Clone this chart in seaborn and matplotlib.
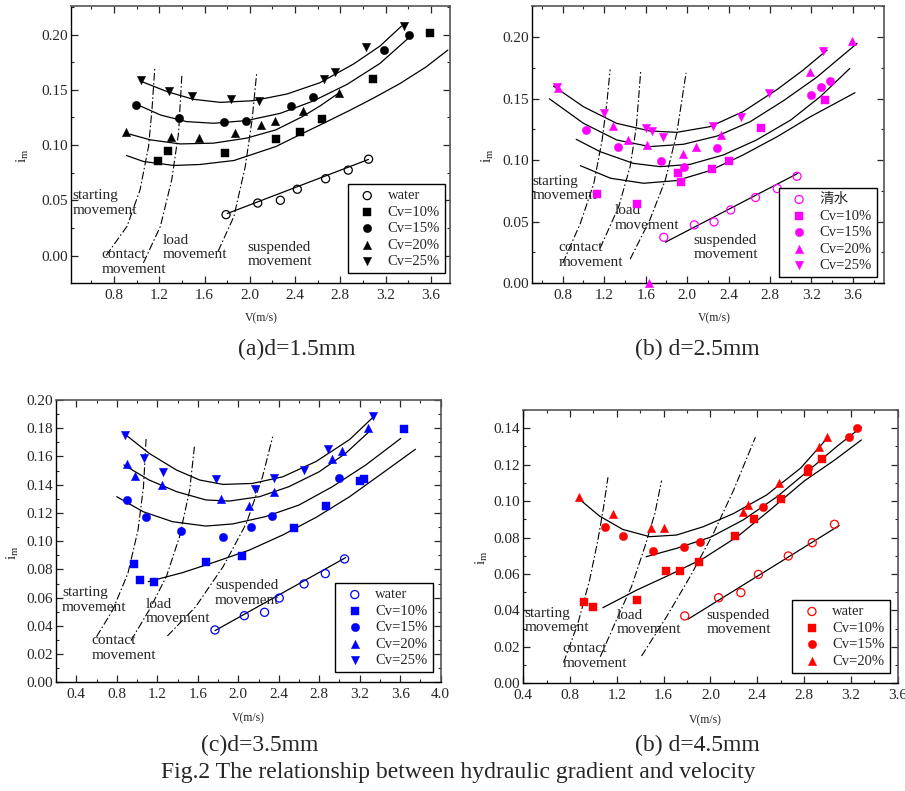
import matplotlib
matplotlib.use("Agg")
import matplotlib.pyplot as plt
import seaborn as sns
from matplotlib.ticker import MultipleLocator, FormatStrFormatter

# ---------------- (a) d=1.5mm ----------------
a_water_v = [1.79, 2.07, 2.27, 2.42, 2.67, 2.87, 3.05]
a_water_i = [0.037, 0.0475, 0.050, 0.060, 0.0695, 0.0773, 0.0872]
a_cv10_v = [1.19, 1.28, 1.78, 2.23, 2.44, 2.64, 3.09, 3.59]
a_cv10_i = [0.0857, 0.0947, 0.0926, 0.1059, 0.1122, 0.1233, 0.160, 0.2018]
a_cv15_v = [0.99, 1.37, 1.77, 1.97, 2.36, 2.56, 3.19, 3.41]
a_cv15_i = [0.1365, 0.1248, 0.1209, 0.1215, 0.135, 0.1438, 0.1859, 0.200]
a_cv20_v = [0.91, 1.30, 1.55, 1.87, 2.10, 2.22, 2.47, 2.79]
a_cv20_i = [0.1116, 0.1077, 0.1068, 0.1113, 0.1182, 0.1221, 0.1311, 0.1468]
a_cv25_v = [1.04, 1.29, 1.49, 1.83, 2.08, 2.66, 2.75, 3.03, 3.36]
a_cv25_i = [0.1588, 0.1486, 0.1441, 0.1414, 0.1399, 0.1594, 0.166, 0.1889, 0.2081]
# fitted curves
a_fit_water_v = [1.80, 3.05]
a_fit_water_i = [0.038, 0.087]
a_fit10_v = [0.91, 1.06, 1.33, 1.56, 1.86, 2.23, 2.44, 2.64, 2.89, 3.09, 3.33, 3.56, 3.75]
a_fit10_i = [0.0905, 0.0851, 0.0815, 0.0824, 0.086, 0.0986, 0.1092, 0.1191, 0.1317, 0.1423, 0.1558, 0.1708, 0.1859]
a_fit15_v = [1.0, 1.21, 1.44, 1.68, 1.97, 2.27, 2.56, 2.86, 3.15, 3.41]
a_fit15_i = [0.1368, 0.1272, 0.1212, 0.1197, 0.1221, 0.1287, 0.1398, 0.1549, 0.1738, 0.1975]
a_fit20_v = [0.94, 1.12, 1.385, 1.68, 1.97, 2.23, 2.465, 2.62, 2.80]
a_fit20_i = [0.1098, 0.1047, 0.101, 0.1017, 0.1062, 0.1137, 0.1257, 0.1353, 0.148]
a_fit25_v = [1.03, 1.27, 1.50, 1.74, 2.03, 2.33, 2.62, 2.92, 3.15, 3.34]
a_fit25_i = [0.158, 0.1483, 0.1414, 0.1386, 0.1401, 0.1462, 0.1564, 0.1735, 0.1895, 0.2075]
# regime boundaries
a_b1_v = [0.73, 0.915, 1.03, 1.105, 1.135, 1.16]
a_b1_i = [0.0, 0.0265, 0.0595, 0.0986, 0.1317, 0.1693]
a_b2_v = [1.06, 1.21, 1.31, 1.37, 1.40]
a_b2_i = [-0.0066, 0.0265, 0.0686, 0.1107, 0.1642]
a_b3_v = [1.72, 1.86, 1.96, 2.02, 2.06]
a_b3_i = [0.0039, 0.0355, 0.0806, 0.1227, 0.1642]

# ---------------- (b) d=2.5mm ----------------
b_water_v = [1.775, 2.07, 2.26, 2.42, 2.66, 2.87, 3.06]
b_water_i = [0.0373, 0.0474, 0.0498, 0.0595, 0.0696, 0.0769, 0.0869]
b_cv10_v = [1.13, 1.52, 1.91, 1.94, 2.24, 2.40, 2.71, 3.33]
b_cv10_i = [0.0725, 0.0647, 0.0893, 0.082, 0.0931, 0.0996, 0.1264, 0.1488]
b_cv15_v = [1.02, 1.33, 1.75, 1.97, 2.29, 3.20, 3.29, 3.38]
b_cv15_i = [0.1245, 0.1104, 0.0996, 0.0947, 0.1096, 0.1529, 0.1591, 0.1645]
b_cv20_v = [0.75, 1.28, 1.43, 1.61, 1.63, 1.96, 2.09, 2.33, 3.19, 3.59]
b_cv20_i = [0.1583, 0.1279, 0.116, 0.112, 0.0, 0.1053, 0.1104, 0.1207, 0.1715, 0.197]
b_cv25_v = [0.74, 1.20, 1.60, 1.66, 1.77, 2.25, 2.52, 2.79, 3.31]
b_cv25_i = [0.1591, 0.1385, 0.1264, 0.1237, 0.1191, 0.1277, 0.1353, 0.1548, 0.1889]
b_fit_water_v = [1.79, 3.07]
b_fit_water_i = [0.0333, 0.0893]
b_fit10_v = [0.97, 1.26, 1.58, 1.90, 2.22, 2.54, 2.87, 3.19, 3.62]
b_fit10_i = [0.0955, 0.0853, 0.0812, 0.0834, 0.0915, 0.1042, 0.1191, 0.1353, 0.1548]
b_fit15_v = [0.93, 1.16, 1.48, 1.74, 2.03, 2.35, 2.67, 3.0, 3.285, 3.57]
b_fit15_i = [0.1169, 0.1069, 0.0974, 0.0947, 0.0966, 0.1042, 0.1164, 0.1326, 0.1516, 0.1745]
b_fit20_v = [0.67, 1.0, 1.32, 1.64, 1.965, 2.29, 2.61, 2.93, 3.25, 3.64]
b_fit20_i = [0.1499, 0.1299, 0.1164, 0.111, 0.1129, 0.1196, 0.1313, 0.1483, 0.1673, 0.1949]
b_fit25_v = [0.71, 1.0, 1.32, 1.64, 1.90, 2.22, 2.54, 2.87, 3.12, 3.35]
b_fit25_i = [0.1602, 0.1434, 0.1299, 0.1237, 0.1226, 0.1272, 0.1394, 0.1575, 0.1732, 0.1894]
b_b1_v = [0.80, 0.97, 1.10, 1.18, 1.225, 1.257]
b_b1_i = [0.0162, 0.0487, 0.0812, 0.1164, 0.1461, 0.1737]
b_b2_v = [1.16, 1.34, 1.45, 1.51, 1.553]
b_b2_i = [0.0284, 0.0622, 0.0947, 0.1272, 0.1732]
b_b3_v = [1.45, 1.64, 1.79, 1.90, 1.99]
b_b3_i = [0.0195, 0.0514, 0.0839, 0.1218, 0.171]

# ---------------- (c) d=3.5mm ----------------
c_water_v = [1.77, 2.06, 2.26, 2.405, 2.65, 2.86, 3.05]
c_water_i = [0.0371, 0.0472, 0.0496, 0.0597, 0.0697, 0.077, 0.0874]
c_cv10_v = [0.975, 1.03, 1.17, 1.68, 2.04, 2.55, 2.87, 3.20, 3.24, 3.64]
c_cv10_i = [0.0841, 0.0723, 0.0711, 0.0855, 0.0897, 0.1096, 0.1247, 0.1429, 0.1443, 0.1795]
c_cv15_v = [0.90, 1.09, 1.43, 1.85, 2.13, 2.33, 3.0]
c_cv15_i = [0.1292, 0.1169, 0.1074, 0.1027, 0.1098, 0.1176, 0.1445]
c_cv20_v = [0.90, 0.98, 1.245, 1.83, 2.11, 2.35, 2.925, 3.02, 3.28]
c_cv20_i = [0.1547, 0.1464, 0.1398, 0.1299, 0.1249, 0.1351, 0.1582, 0.1639, 0.1799]
c_cv25_v = [0.88, 1.07, 1.255, 1.78, 2.17, 2.35, 2.65, 2.89, 3.33]
c_cv25_i = [0.1752, 0.1592, 0.1492, 0.144, 0.1372, 0.145, 0.1502, 0.165, 0.1887]
c_fit_water_v = [1.77, 3.06]
c_fit_water_i = [0.0366, 0.0883]
c_fit10_v = [1.11, 1.45, 1.78, 2.11, 2.44, 2.77, 3.10, 3.42, 3.75]
c_fit10_i = [0.0713, 0.0777, 0.0855, 0.0937, 0.1044, 0.1169, 0.1315, 0.148, 0.1651]
c_fit15_v = [0.80, 1.06, 1.35, 1.68, 1.945, 2.27, 2.60, 2.93, 3.26, 3.605]
c_fit15_i = [0.1315, 0.1209, 0.1138, 0.1107, 0.1122, 0.1174, 0.1256, 0.1386, 0.154, 0.1728]
c_fit20_v = [0.87, 1.12, 1.39, 1.68, 1.91, 2.21, 2.50, 2.80, 3.06, 3.31]
c_fit20_i = [0.154, 0.1433, 0.1351, 0.1292, 0.1284, 0.1315, 0.1386, 0.1492, 0.1622, 0.1787]
c_fit25_v = [0.87, 1.12, 1.39, 1.62, 1.85, 2.14, 2.44, 2.77, 3.10, 3.33]
c_fit25_i = [0.1764, 0.1622, 0.1504, 0.1433, 0.1402, 0.1409, 0.1456, 0.1565, 0.172, 0.1877]
c_b1_v = [0.60, 0.76, 0.91, 1.01, 1.064, 1.09]
c_b1_i = [0.0323, 0.0512, 0.0772, 0.1079, 0.1386, 0.1728]
c_b2_v = [0.94, 1.12, 1.29, 1.42, 1.52, 1.567]
c_b2_i = [0.0295, 0.0512, 0.0749, 0.1032, 0.1362, 0.1669]
c_b3_v = [1.30, 1.58, 1.85, 2.08, 2.24, 2.34]
c_b3_i = [0.0328, 0.0536, 0.0819, 0.1126, 0.1457, 0.174]

# ---------------- (d) d=4.5mm ----------------
d_water_v = [1.78, 2.07, 2.26, 2.41, 2.665, 2.87, 3.06]
d_water_i = [0.037, 0.047, 0.0498, 0.0598, 0.0699, 0.0772, 0.0873]
d_cv10_v = [0.92, 1.00, 1.37, 1.62, 1.74, 1.90, 2.21, 2.375, 2.60, 2.83, 2.95]
d_cv10_i = [0.0448, 0.0421, 0.0456, 0.0617, 0.0617, 0.0668, 0.0809, 0.09, 0.101, 0.116, 0.123]
d_cv15_v = [1.10, 1.25, 1.51, 1.77, 1.91, 2.45, 2.83, 3.18, 3.25]
d_cv15_i = [0.086, 0.0809, 0.0728, 0.075, 0.0776, 0.097, 0.118, 0.1351, 0.14]
d_cv20_v = [0.875, 1.17, 1.49, 1.605, 2.28, 2.32, 2.59, 2.93, 3.0]
d_cv20_i = [0.1021, 0.093, 0.0851, 0.0851, 0.0939, 0.0979, 0.1102, 0.1299, 0.1351]
d_fit_water_v = [1.81, 3.10]
d_fit_water_i = [0.0353, 0.0866]
d_fit10_v = [1.08, 1.37, 1.65, 1.94, 2.23, 2.51, 2.80, 3.06, 3.29]
d_fit10_i = [0.0415, 0.0512, 0.0595, 0.0686, 0.0805, 0.0952, 0.111, 0.1225, 0.1336]
d_fit15_v = [1.45, 1.71, 2.0, 2.28, 2.57, 2.86, 3.085, 3.29]
d_fit15_i = [0.0695, 0.0741, 0.0802, 0.0897, 0.1025, 0.118, 0.1303, 0.1406]
d_fit20_v = [0.87, 1.05, 1.25, 1.48, 1.71, 1.94, 2.20, 2.48, 2.77, 3.01]
d_fit20_i = [0.1016, 0.0919, 0.0845, 0.0805, 0.0814, 0.086, 0.0933, 0.1034, 0.1181, 0.1354]
d_b1_v = [0.744, 0.867, 0.967, 1.038, 1.087, 1.124]
d_b1_i = [0.0113, 0.0329, 0.0567, 0.0787, 0.097, 0.1131]
d_b2_v = [1.058, 1.196, 1.325, 1.439, 1.525, 1.582]
d_b2_i = [0.0146, 0.0348, 0.0531, 0.075, 0.0933, 0.1113]
d_b3_v = [1.411, 1.625, 1.826, 2.026, 2.198, 2.384]
d_b3_i = [0.015, 0.0366, 0.0586, 0.0824, 0.1061, 0.1351]

regime_names = ["starting\nmovement", "contact\nmovement", "load\nmovement", "suspended\nmovement"]
series_labels = ["Cv=10%", "Cv=15%", "Cv=20%", "Cv=25%"]
filled_markers = ["s", "o", "^", "v"]

sns.set_style("ticks")
plt.rcParams["font.family"] = ["Liberation Serif", "Noto Sans CJK SC"]
plt.rcParams["mathtext.fontset"] = "custom"
plt.rcParams["mathtext.rm"] = "Liberation Serif"
plt.rcParams["mathtext.it"] = "Liberation Serif:italic"

DASHDOT = (0, (7, 2.2, 1.4, 2.2))


def draw_panel(ax, color, water, solids, fits, bounds, notes, water_label,
               xlim, ylim, ymajor, yminor, legend_anchor, label_pos):
    for v, i in fits:
        sns.lineplot(x=v, y=i, ax=ax, color="black", lw=0.9, sort=False, estimator=None)
    for v, i in bounds:
        sns.lineplot(x=v, y=i, ax=ax, color="black", lw=0.8, sort=False,
                     estimator=None, linestyle=DASHDOT)
    sns.scatterplot(x=water[0], y=water[1], ax=ax, marker="o", s=34,
                    facecolor="none", edgecolor=color, linewidth=0.9,
                    label=water_label, clip_on=False, zorder=4)
    for (v, i), mk, lab in zip(solids, filled_markers, series_labels):
        sns.scatterplot(x=v, y=i, ax=ax, marker=mk, s=36, color=color,
                        edgecolor=color, linewidth=0.3, label=lab,
                        clip_on=False, zorder=4)
    for (tx, ty), txt in zip(notes, regime_names):
        ax.text(tx, ty, txt, fontsize=11, ha="left", va="top", linespacing=1.15)

    ax.set_xlim(*xlim)
    ax.set_ylim(*ylim)
    ax.xaxis.set_major_locator(MultipleLocator(0.4))
    ax.xaxis.set_minor_locator(MultipleLocator(0.2))
    ax.yaxis.set_major_locator(MultipleLocator(ymajor))
    ax.yaxis.set_minor_locator(MultipleLocator(yminor))
    ax.xaxis.set_major_formatter(FormatStrFormatter("%.1f"))
    ax.yaxis.set_major_formatter(FormatStrFormatter("%.2f"))
    ax.tick_params(which="both", direction="in", top=True, right=True, labelsize=11)
    ax.tick_params(which="major", length=5, width=0.9)
    ax.tick_params(which="minor", length=2.5, width=0.8)
    ax.tick_params(axis="x", pad=4)
    ax.tick_params(axis="y", pad=2)
    for side in ["left", "bottom"]:
        ax.spines[side].set_color("black")
        ax.spines[side].set_linewidth(1.0)
    for side in ["top", "right"]:
        ax.spines[side].set_color("#555555")
        ax.spines[side].set_linewidth(1.2)

    ax.set_xlabel("V(m/s)", fontsize=8.5)
    ax.xaxis.set_label_coords(*label_pos[0])
    ax.xaxis.label.set_va("center")
    ax.set_ylabel(r"$\mathrm{i_m}$", fontsize=11)
    ax.yaxis.set_label_coords(*label_pos[1])
    ax.yaxis.label.set_va("center")

    handles, labels = ax.get_legend_handles_labels()
    leg = ax.legend(handles, labels, loc="lower right", bbox_to_anchor=legend_anchor,
                    frameon=True, fancybox=False, framealpha=1, edgecolor="black",
                    fontsize=10.5, borderpad=0.35, labelspacing=0.22,
                    handlelength=2.0, handletextpad=0.4, borderaxespad=0)
    leg.get_frame().set_linewidth(1.0)


fig = plt.figure(figsize=(9.05, 7.91), dpi=100)
ax_a = fig.add_axes([0.0785, 0.642, 0.4188, 0.350])
ax_b = fig.add_axes([0.5875, 0.642, 0.3893, 0.350])
ax_c = fig.add_axes([0.0619, 0.1374, 0.4251, 0.3569])
ax_d = fig.add_axes([0.5782, 0.1361, 0.4137, 0.3455])

draw_panel(
    ax_a, "black", (a_water_v, a_water_i),
    [(a_cv10_v, a_cv10_i), (a_cv15_v, a_cv15_i), (a_cv20_v, a_cv20_i), (a_cv25_v, a_cv25_i)],
    [(a_fit_water_v, a_fit_water_i), (a_fit10_v, a_fit10_i), (a_fit15_v, a_fit15_i),
     (a_fit20_v, a_fit20_i), (a_fit25_v, a_fit25_i)],
    [(a_b1_v, a_b1_i), (a_b2_v, a_b2_i), (a_b3_v, a_b3_i)],
    [(0.43, 0.060), (0.69, 0.0065), (1.23, 0.0195), (1.98, 0.0135)],
    "water", (0.42, 3.77), (-0.025, 0.2255), 0.05, 0.025, (0.987, 0.036),
    ((0.501, -0.126), (-0.127, 0.46)),
)
draw_panel(
    ax_b, "#FF00FF", (b_water_v, b_water_i),
    [(b_cv10_v, b_cv10_i), (b_cv15_v, b_cv15_i), (b_cv20_v, b_cv20_i), (b_cv25_v, b_cv25_i)],
    [(b_fit_water_v, b_fit_water_i), (b_fit10_v, b_fit10_i), (b_fit15_v, b_fit15_i),
     (b_fit20_v, b_fit20_i), (b_fit25_v, b_fit25_i)],
    [(b_b1_v, b_b1_i), (b_b2_v, b_b2_i), (b_b3_v, b_b3_i)],
    [(0.51, 0.088), (0.758, 0.034), (1.305, 0.064), (2.06, 0.040)],
    "清水", (0.5, 3.9), (0.0, 0.225), 0.05, 0.025, (0.98, 0.022),
    ((0.517, -0.126), (-0.124, 0.46)),
)
draw_panel(
    ax_c, "#0000FF", (c_water_v, c_water_i),
    [(c_cv10_v, c_cv10_i), (c_cv15_v, c_cv15_i), (c_cv20_v, c_cv20_i), (c_cv25_v, c_cv25_i)],
    [(c_fit_water_v, c_fit_water_i), (c_fit10_v, c_fit10_i), (c_fit15_v, c_fit15_i),
     (c_fit20_v, c_fit20_i), (c_fit25_v, c_fit25_i)],
    [(c_b1_v, c_b1_i), (c_b2_v, c_b2_i), (c_b3_v, c_b3_i)],
    [(0.26, 0.068), (0.548, 0.034), (1.09, 0.060), (1.77, 0.073)],
    "water", (0.2, 4.0), (0.0, 0.20), 0.02, 0.01, (0.979, 0.036),
    ((0.5, -0.126), (-0.112, 0.46)),
)
draw_panel(
    ax_d, "#FF0000", (d_water_v, d_water_i),
    [(d_cv10_v, d_cv10_i), (d_cv15_v, d_cv15_i), (d_cv20_v, d_cv20_i)],
    [(d_fit_water_v, d_fit_water_i), (d_fit10_v, d_fit10_i), (d_fit15_v, d_fit15_i),
     (d_fit20_v, d_fit20_i)],
    [(d_b1_v, d_b1_i), (d_b2_v, d_b2_i), (d_b3_v, d_b3_i)],
    [(0.41, 0.042), (0.738, 0.0225), (1.196, 0.041), (1.963, 0.041)],
    "water", (0.4, 3.6), (0.0, 0.15), 0.02, 0.01, (0.979, 0.039),
    ((0.485, -0.134), (-0.11, 0.46)),
)

fig.text(0.328, 0.5588, "(a)d=1.5mm", fontsize=17, ha="center", va="center")
fig.text(0.771, 0.5588, "(b) d=2.5mm", fontsize=17, ha="center", va="center")
fig.text(0.287, 0.0582, "(c)d=3.5mm", fontsize=17, ha="center", va="center")
fig.text(0.771, 0.0582, "(b) d=4.5mm", fontsize=17, ha="center", va="center")
fig.text(0.506, 0.0228, "Fig.2 The relationship between hydraulic gradient and velocity",
         fontsize=17, ha="center", va="center")

fig.savefig("out.png", dpi=100)
plt.close(fig)
